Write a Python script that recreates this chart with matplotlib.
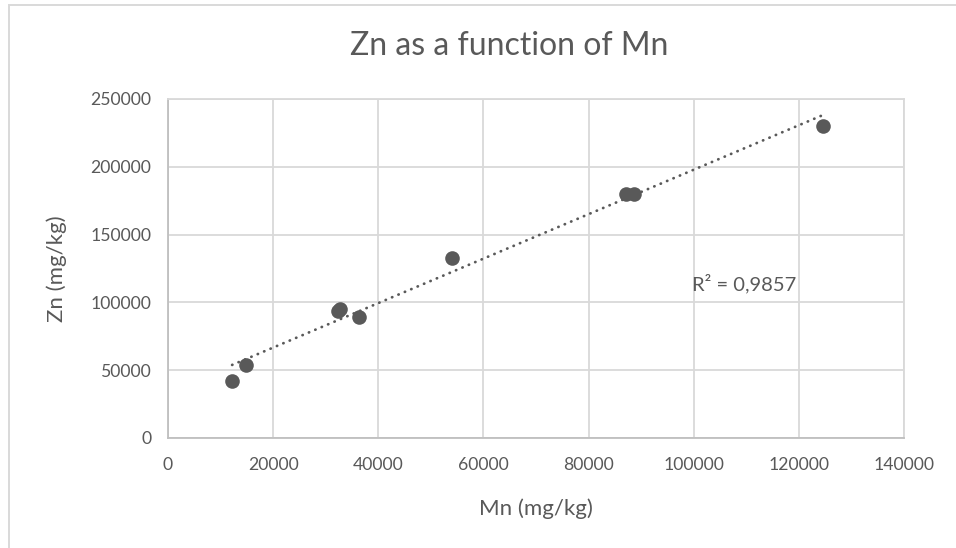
import numpy as np
import matplotlib
matplotlib.use("Agg")
import matplotlib.pyplot as plt
from matplotlib.patches import Rectangle

plt.rcParams['font.family'] = ['Lato', 'DejaVu Sans']

mn = [12200, 14800, 32300, 32800, 36300, 54000, 87100, 88700, 124500]
zn = [42100, 53700, 93500, 95500, 89000, 132800, 179600, 180300, 230000]
x_ticks = [0, 20000, 40000, 60000, 80000, 100000, 120000, 140000]
y_ticks = [0, 50000, 100000, 150000, 200000, 250000]
title = "Zn as a function of Mn"
xlabel = "Mn (mg/kg)"
ylabel = "Zn (mg/kg)"
r2_text = "R² = 0,9857"

TXT = "#595959"
GRID = "#d9d9d9"
AX = "#bfbfbf"
MK = "#595959"

fig = plt.figure(figsize=(9.56, 5.48), dpi=100)
fig.patches.append(Rectangle((8.5/956, -0.1), 2.0, 1.1 - 5.5/548,
                             transform=fig.transFigure, fill=False,
                             edgecolor=GRID, linewidth=1.4))
ax = fig.add_axes([168/956, 1 - 438/548, (904 - 168)/956, (438 - 99)/548])

ax.set_xlim(0, 140000)
ax.set_ylim(0, 250000)
ax.set_xticks(x_ticks)
ax.set_yticks(y_ticks)
ax.set_xticklabels([str(v) for v in x_ticks])
ax.set_yticklabels([str(v) for v in y_ticks])
ax.grid(True, color=GRID, linewidth=1.3)
ax.set_axisbelow(True)
for s in ['top', 'right']:
    ax.spines[s].set_color(GRID)
    ax.spines[s].set_linewidth(1.3)
for s in ['left', 'bottom']:
    ax.spines[s].set_color(AX)
    ax.spines[s].set_linewidth(1.3)
ax.tick_params(length=0, colors=TXT, labelsize=12.7)
ax.tick_params(axis='x', pad=14)
ax.tick_params(axis='y', pad=12)

# trendline
coef = np.polyfit(mn, zn, 1)
xs = np.array([min(mn), max(mn)])
ax.plot(xs, np.polyval(coef, xs), color=MK, linewidth=2.0,
        linestyle=(0, (0.1, 2.4)), dash_capstyle='round', zorder=2)
ax.plot(mn, zn, 'o', color=MK, markersize=10.5, markeredgewidth=0, zorder=3)

ax.text(99700, 114000, r2_text, color=TXT, fontsize=14.5, va='center', ha='left')

fig.text(509.5/956, 1 - 46/548, title, color=TXT, fontsize=23, ha='center', va='center')
ax.set_xlabel(xlabel, color=TXT, fontsize=16, labelpad=18)
ax.set_ylabel(ylabel, color=TXT, fontsize=16, labelpad=17)

fig.savefig("out.png", dpi=100, facecolor="white")
